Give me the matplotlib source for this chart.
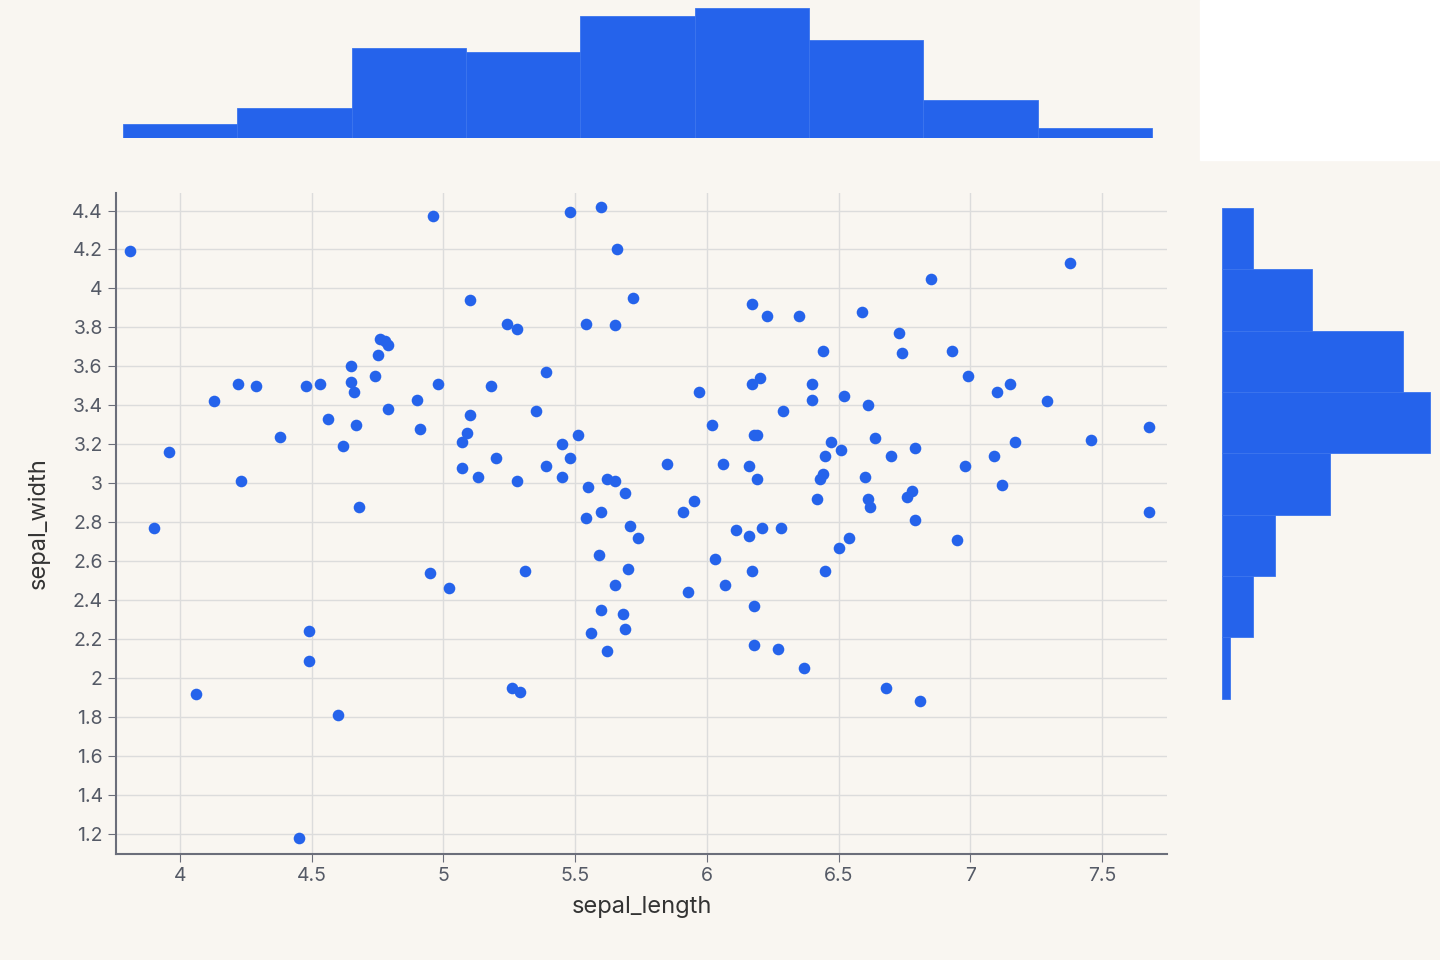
import numpy as np
import matplotlib.pyplot as plt
from matplotlib.patches import Rectangle

plt.rcParams['font.family'] = ['Inter', 'DejaVu Sans']

sepal_length = [3.81, 3.90, 3.96, 4.06, 4.13, 4.22, 4.23, 4.29, 4.38, 4.48, 4.53, 4.49, 4.49, 4.45,
                4.56, 4.60, 4.62, 4.65, 4.65, 4.66, 4.67, 4.68, 4.74, 4.75, 4.76, 4.78, 4.79, 4.79,
                4.90, 4.91, 4.96, 4.95, 4.98, 5.02, 5.07, 5.09, 5.07, 5.10, 5.10, 5.13, 5.18, 5.20,
                5.24, 5.28, 5.28, 5.26, 5.29, 5.31, 5.35, 5.39, 5.39, 5.45, 5.45, 5.48, 5.48, 5.51,
                5.54, 5.54, 5.55, 5.60, 5.59, 5.60, 5.60, 5.56, 5.62, 5.62, 5.65, 5.65, 5.66, 5.65,
                5.68, 5.69, 5.69, 5.70, 5.71, 5.74, 5.72, 5.85, 5.91, 5.93, 5.95, 5.97, 6.02, 6.03,
                6.06, 6.07, 6.11, 6.16, 6.16, 6.17, 6.17, 6.17, 6.18, 6.18, 6.18, 6.19, 6.19, 6.20,
                6.21, 6.23, 6.27, 6.28, 6.29, 6.35, 6.37, 6.40, 6.40, 6.42, 6.43, 6.44, 6.44, 6.45,
                6.45, 6.47, 6.50, 6.51, 6.52, 6.54, 6.59, 6.60, 6.61, 6.61, 6.62, 6.64, 6.68, 6.70,
                6.73, 6.74, 6.76, 6.78, 6.79, 6.79, 6.81, 6.85, 6.93, 6.95, 6.98, 6.99, 7.09, 7.10,
                7.12, 7.15, 7.17, 7.29, 7.38, 7.46, 7.68, 7.68]
sepal_width = [4.19, 2.77, 3.16, 1.92, 3.42, 3.51, 3.01, 3.50, 3.24, 3.50, 3.51, 2.24, 2.09, 1.18,
               3.33, 1.81, 3.19, 3.60, 3.52, 3.47, 3.30, 2.88, 3.55, 3.66, 3.74, 3.73, 3.71, 3.38,
               3.43, 3.28, 4.37, 2.54, 3.51, 2.46, 3.21, 3.26, 3.08, 3.94, 3.35, 3.03, 3.50, 3.13,
               3.82, 3.79, 3.01, 1.95, 1.93, 2.55, 3.37, 3.57, 3.09, 3.20, 3.03, 4.39, 3.13, 3.25,
               3.82, 2.82, 2.98, 4.42, 2.63, 2.85, 2.35, 2.23, 3.02, 2.14, 3.01, 3.81, 4.20, 2.48,
               2.33, 2.95, 2.25, 2.56, 2.78, 2.72, 3.95, 3.10, 2.85, 2.44, 2.91, 3.47, 3.30, 2.61,
               3.10, 2.48, 2.76, 3.09, 2.73, 3.92, 3.51, 2.55, 3.25, 2.37, 2.17, 3.25, 3.02, 3.54,
               2.77, 3.86, 2.15, 2.77, 3.37, 3.86, 2.05, 3.43, 3.51, 2.92, 3.02, 3.05, 3.68, 3.14,
               2.55, 3.21, 2.67, 3.17, 3.45, 2.72, 3.88, 3.03, 3.40, 2.92, 2.88, 3.23, 1.95, 3.14,
               3.77, 3.67, 2.93, 2.96, 2.81, 3.18, 1.88, 4.05, 3.68, 2.71, 3.09, 3.55, 3.14, 3.47,
               2.99, 3.51, 3.21, 3.42, 4.13, 3.22, 3.29, 2.85]

# marginal histogram heights (relative)
length_bin_start = 3.784
length_bin_width = 0.434
length_counts = [14, 30, 89, 85, 121, 129, 97, 38, 10]
width_bin_start = 1.894
width_bin_width = 0.315
width_counts = [8, 31, 53, 108, 208, 181, 90, 31]  # bottom to top

blue = '#2563eb'
bg = '#f9f6f1'
axis_col = '#6b6e7a'

fig = plt.figure(figsize=(14.4, 9.6), dpi=100, facecolor=bg)
fig.patches.append(Rectangle((1200 / 1440, 800 / 960), 240 / 1440, 160 / 960,
                             transform=fig.transFigure, color='white', zorder=0))

ax = fig.add_axes([116 / 1440, 106 / 960, 1051 / 1440, 661 / 960])
ax.set_facecolor(bg)
ax.scatter(sepal_length, sepal_width, s=70, color=blue, zorder=3, linewidths=0)
ax.set_xlim(3.757, 7.747)
ax.set_ylim(1.097, 4.49)
ax.set_xticks([4, 4.5, 5, 5.5, 6, 6.5, 7, 7.5])
ax.set_xticklabels(['4', '4.5', '5', '5.5', '6', '6.5', '7', '7.5'])
yt = [1.2, 1.4, 1.6, 1.8, 2, 2.2, 2.4, 2.6, 2.8, 3, 3.2, 3.4, 3.6, 3.8, 4, 4.2, 4.4]
ax.set_yticks(yt)
ax.set_yticklabels([f'{v:g}' for v in yt])
ax.grid(True, color='#dcdcdc', linewidth=1)
ax.set_axisbelow(True)
for s in ['top', 'right']:
    ax.spines[s].set_visible(False)
for s in ['left', 'bottom']:
    ax.spines[s].set_color(axis_col)
    ax.spines[s].set_linewidth(1.5)
ax.tick_params(colors=axis_col, labelsize=14, length=6, labelcolor='#555a66')
ax.set_xlabel('sepal_length', fontsize=17, color='#333333', labelpad=8)
ax.set_ylabel('sepal_width', fontsize=17, color='#333333', labelpad=16)

# top marginal
axt = fig.add_axes([116 / 1440, 822 / 960, 1051 / 1440, 130 / 960])
axt.bar([length_bin_start + i * length_bin_width for i in range(len(length_counts))],
        length_counts, width=length_bin_width, align='edge', color=blue,
        edgecolor='#3b74ee', linewidth=0.6)
axt.set_xlim(ax.get_xlim())
axt.set_ylim(0, 129)
axt.axis('off')

# right marginal
axr = fig.add_axes([1222 / 1440, 106 / 960, 210 / 1440, 661 / 960])
axr.barh([width_bin_start + i * width_bin_width for i in range(len(width_counts))],
         width_counts, height=width_bin_width, align='edge', color=blue,
         edgecolor='#3b74ee', linewidth=0.6)
axr.set_ylim(ax.get_ylim())
axr.set_xlim(0, 210)
axr.axis('off')

fig.savefig('out.png', dpi=100, facecolor=bg)
